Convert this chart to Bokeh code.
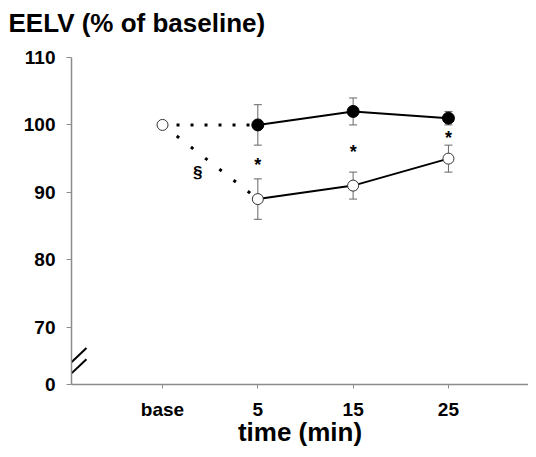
from bokeh.plotting import figure
from bokeh.models import Range1d, FixedTicker, Whisker, TeeHead, ColumnDataSource, Title
from bokeh.embed import file_html
from bokeh.resources import INLINE
from bokeh.core.properties import value

# ---- data ----
tick_labels = ["base", "5", "15", "25"]
x_pos = [0, 1, 2, 3]
baseline_value = 100
filled_y = [100, 102, 101]
filled_err = [3, 2, 1]
open_y = [89, 91, 95]
open_err = [3, 2, 2]
y_ticks = [70, 80, 90, 100, 110]
y_break_value = 61.5   # drawn position of the "0" tick after the axis break

FONT = "Liberation Sans"
AXIS_GRAY = "#8c8c8c"
X_START = -0.955
X_END = 3.84

p = figure(width=528, height=449, output_backend="svg", toolbar_location=None,
           x_range=Range1d(X_START, X_END), y_range=Range1d(y_break_value, 110),
           min_border_left=71, min_border_right=0, min_border_top=57, min_border_bottom=60)
p.outline_line_color = None
p.grid.visible = False
p.background_fill_color = "white"

# title (a small blank spacer panel sits between it and the plot)
p.title.text = "EELV (% of baseline)"
p.title.text_font = FONT
p.title.text_font_size = "26px"
p.title.text_font_style = "bold"
p.title.text_color = "black"
p.title.align = "left"
p.title.vertical_align = "top"
p.title.offset = -63
p.title.standoff = 4
p.add_layout(Title(text=" ", text_font_size="10px", standoff=3), "above")

# axes
ax = p.xaxis[0]
ax.ticker = FixedTicker(ticks=x_pos)
ax.major_label_overrides = {x: lab for x, lab in zip(x_pos, tick_labels)}
ay = p.yaxis[0]
ay.ticker = FixedTicker(ticks=[y_break_value] + y_ticks)
ay.major_label_overrides = {y_break_value: "0"}
for a in (ax, ay):
    a.axis_line_color = AXIS_GRAY
    a.axis_line_width = 1.5
    a.major_tick_line_color = AXIS_GRAY
    a.major_tick_in = 0
    a.minor_tick_line_color = None
    a.major_label_text_font = FONT
    a.major_label_text_font_size = "19px"
    a.major_label_text_font_style = "bold"
    a.major_label_text_color = "black"
ax.major_tick_out = 4
ay.major_tick_out = 5
ay.major_label_standoff = 11
ax.major_label_standoff = 10
ax.axis_label = "time (min)"
ax.axis_label_text_font = FONT
ax.axis_label_text_font_size = "26px"
ax.axis_label_text_font_style = "bold"
ax.axis_label_text_color = "black"
ax.axis_label_standoff = -6

# axis break marks (two short parallel strokes at the y axis)
brk_x1 = X_START + 0.157
p.segment(x0=[X_START, X_START], y0=[y_break_value + 3.3, y_break_value + 1.65],
          x1=[brk_x1, brk_x1], y1=[y_break_value + 5.4, y_break_value + 3.75],
          line_color="black", line_width=2)

# dotted links from baseline to first time point
p.line([x_pos[0], x_pos[1]], [baseline_value, filled_y[0]], line_color="black",
       line_width=3, line_dash="3 11", line_cap="butt")
p.line([x_pos[0], x_pos[1]], [baseline_value, open_y[0]], line_color="black",
       line_width=3, line_dash="3 15", line_cap="butt")

xs = x_pos[1:]
src_f = ColumnDataSource(dict(x=xs, y=filled_y,
                              lo=[v - e for v, e in zip(filled_y, filled_err)],
                              hi=[v + e for v, e in zip(filled_y, filled_err)]))
src_o = ColumnDataSource(dict(x=xs, y=open_y,
                              lo=[v - e for v, e in zip(open_y, open_err)],
                              hi=[v + e for v, e in zip(open_y, open_err)]))

for src in (src_f, src_o):
    p.add_layout(Whisker(source=src, base="x", lower="lo", upper="hi",
                         line_color="#666666", line_width=1,
                         upper_head=TeeHead(size=8, line_color="#666666", line_width=1),
                         lower_head=TeeHead(size=8, line_color="#666666", line_width=1)))

p.line("x", "y", source=src_f, line_color="black", line_width=2)
p.line("x", "y", source=src_o, line_color="black", line_width=2)

p.scatter("x", "y", source=src_f, size=12, fill_color="black", line_color="black")
p.scatter("x", "y", source=src_o, size=11, fill_color="white", line_color="#333333", line_width=1)
p.scatter([x_pos[0]], [baseline_value], size=11, fill_color="white", line_color="#333333", line_width=1)

# significance markers: between the two series' error bars
star_y = [(fv - fe + ov + oe) / 2 for fv, fe, ov, oe in zip(filled_y, filled_err, open_y, open_err)]
p.text(xs, star_y, text=["*"] * len(xs), text_font=value(FONT), text_font_size="18px",
       text_font_style="bold", text_align="center", text_baseline="alphabetic", y_offset=3,
       text_color="black")
p.text([0.37], [93.0], text=["§"], text_font=value(FONT), text_font_size="17px",
       text_font_style="bold", text_align="center", text_baseline="middle", text_color="black")

open("out.html", "w").write(file_html(p, INLINE))
